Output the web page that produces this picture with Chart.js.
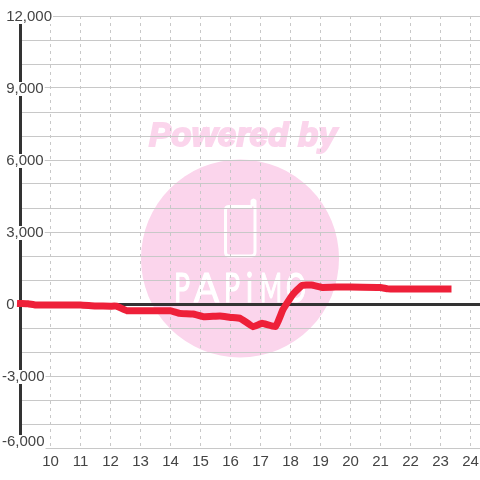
<!DOCTYPE html>
<html>
<head>
<meta charset="utf-8">
<script src="https://cdn.jsdelivr.net/npm/chart.js@4"></script>
<style>
html, body { margin: 0; padding: 0; background: #fff; }
#wrap { width: 480px; height: 480px; }
</style>
</head>
<body>
<div id="wrap"><canvas id="chart" width="480" height="480"></canvas></div>
<script>
const hours = [9, 9.25, 9.5, 10, 10.5, 11, 11.5, 12, 12.2, 12.55, 13, 13.5, 14, 14.3, 14.75, 15.1, 15.65, 16, 16.33, 16.75, 17.05, 17.5, 17.75, 18.08, 18.38, 18.7, 19.05, 19.65, 20, 21, 21.25, 21.5, 22, 23, 23.25];
const values = [20, 10, -40, -40, -40, -40, -80, -90, -90, -280, -280, -280, -280, -390, -420, -530, -500, -560, -600, -945, -805, -945, -230, 400, 770, 790, 690, 710, 710, 690, 630, 630, 630, 630, 630];
const labelledTicks = [12000, 9000, 6000, 3000, 0, -3000, -6000];

const tickFont = { family: '"Liberation Sans", Arial, sans-serif', size: 15, lineHeight: 14 / 15 };

// the logo sits behind the grid
const watermark = {
    id: 'watermark',
    beforeDraw(chart) {
        const c = chart.ctx;
        c.save();
        c.fillStyle = '#fbd5ec';
        c.beginPath();
        c.arc(240, 258.5, 99, 0, Math.PI * 2);
        c.fill();

        c.font = 'italic bold 33px "Liberation Sans", sans-serif';
        c.textAlign = 'left';
        c.textBaseline = 'alphabetic';
        c.letterSpacing = '0.3px';
        c.strokeStyle = '#fbd5ec';
        c.lineWidth = 2;
        c.fillText('Powered by', 149, 146);
        c.strokeText('Powered by', 149, 146);
        c.letterSpacing = '0px';

        c.strokeStyle = '#fff';
        c.lineWidth = 3;
        c.lineJoin = 'round';
        c.beginPath();
        c.moveTo(252, 206.5);
        c.lineTo(229, 206.5);
        c.quadraticCurveTo(225.5, 206.5, 225.5, 210);
        c.lineTo(225.5, 252);
        c.quadraticCurveTo(225.5, 256, 229, 256);
        c.lineTo(251, 256);
        c.quadraticCurveTo(255, 256, 255, 252);
        c.lineTo(255, 201);
        c.quadraticCurveTo(253.5, 199, 252, 201);
        c.lineTo(252, 206.5);
        c.stroke();

        c.fillStyle = '#fff';
        c.lineWidth = 1.2;
        c.font = '40px Lato, sans-serif';
        [['P', 174, 16], ['A', 194, 25], ['P', 224, 16], ['i', 246, 7], ['M', 260, 22], ['O', 286, 20]].forEach(([ch, x, w]) => {
            c.fillText(ch, x, 302, w);
            c.strokeText(ch, x, 302, w);
        });
        c.restore();
    }
};

// nudge y labels down to sit on their lines, the lowest one lifted clear of the x axis
const placeYLabels = {
    id: 'placeYLabels',
    beforeDraw(chart) {
        chart.scales.y.getLabelItems(chart.chartArea).forEach(item => {
            if (item.placed) return;
            item.placed = true;
            const lowest = String(item.label) === '-6,000';
            item.options.translation[1] += lowest ? -6 : 1;
        });
    }
};

new Chart(document.getElementById('chart'), {
    type: 'scatter',
    data: {
        datasets: [{
            data: hours.map((h, i) => ({ x: h, y: values[i] })),
            showLine: true,
            borderColor: '#ee2039',
            borderWidth: 7,
            borderCapStyle: 'square',
            tension: 0.1,
            pointRadius: 0,
            clip: false
        }]
    },
    plugins: [watermark, placeYLabels],
    options: {
        responsive: false,
        animation: false,
        layout: { padding: { top: 16, left: 0, right: 0, bottom: 0 } },
        plugins: { legend: { display: false }, tooltip: { enabled: false } },
        scales: {
            x: {
                type: 'linear',
                min: 9,
                max: 24.3167,
                afterFit(scale) {
                    scale.height = 32;
                    scale.paddingLeft = 0;
                    scale.paddingRight = 0;
                },
                border: { display: false, dash: [3, 4] },
                grid: { color: '#c8c8c8', lineWidth: 1, drawTicks: false },
                ticks: {
                    stepSize: 1,
                    includeBounds: false,
                    autoSkip: false,
                    maxRotation: 0,
                    padding: 7,
                    color: '#444',
                    font: tickFont,
                    callback: v => (v === 9 ? '' : String(v))
                }
            },
            y: {
                min: -6000,
                max: 12000,
                afterFit(scale) {
                    scale.width = 20.5;
                    scale.paddingTop = 0;
                    scale.paddingBottom = 0;
                },
                border: { display: true, color: '#333', width: 3 },
                grid: {
                    drawTicks: false,
                    color: ctx => (ctx.tick.value === 0 ? '#333' : '#c8c8c8'),
                    lineWidth: ctx => (ctx.tick.value === 0 ? 3 : 1)
                },
                ticks: {
                    stepSize: 1000,
                    autoSkip: false,
                    mirror: true,
                    padding: -18.5,
                    color: '#444',
                    font: tickFont,
                    showLabelBackdrop: ctx => labelledTicks.includes(ctx.tick.value),
                    backdropColor: '#fff',
                    backdropPadding: { top: 0, bottom: 0, left: 0, right: 1 },
                    callback(v) {
                        if (!labelledTicks.includes(v)) return '';
                        const text = v.toLocaleString('en-US');
                        return v < 0 ? text : ' ' + text;
                    }
                }
            }
        }
    }
});
</script>
</body>
</html>
